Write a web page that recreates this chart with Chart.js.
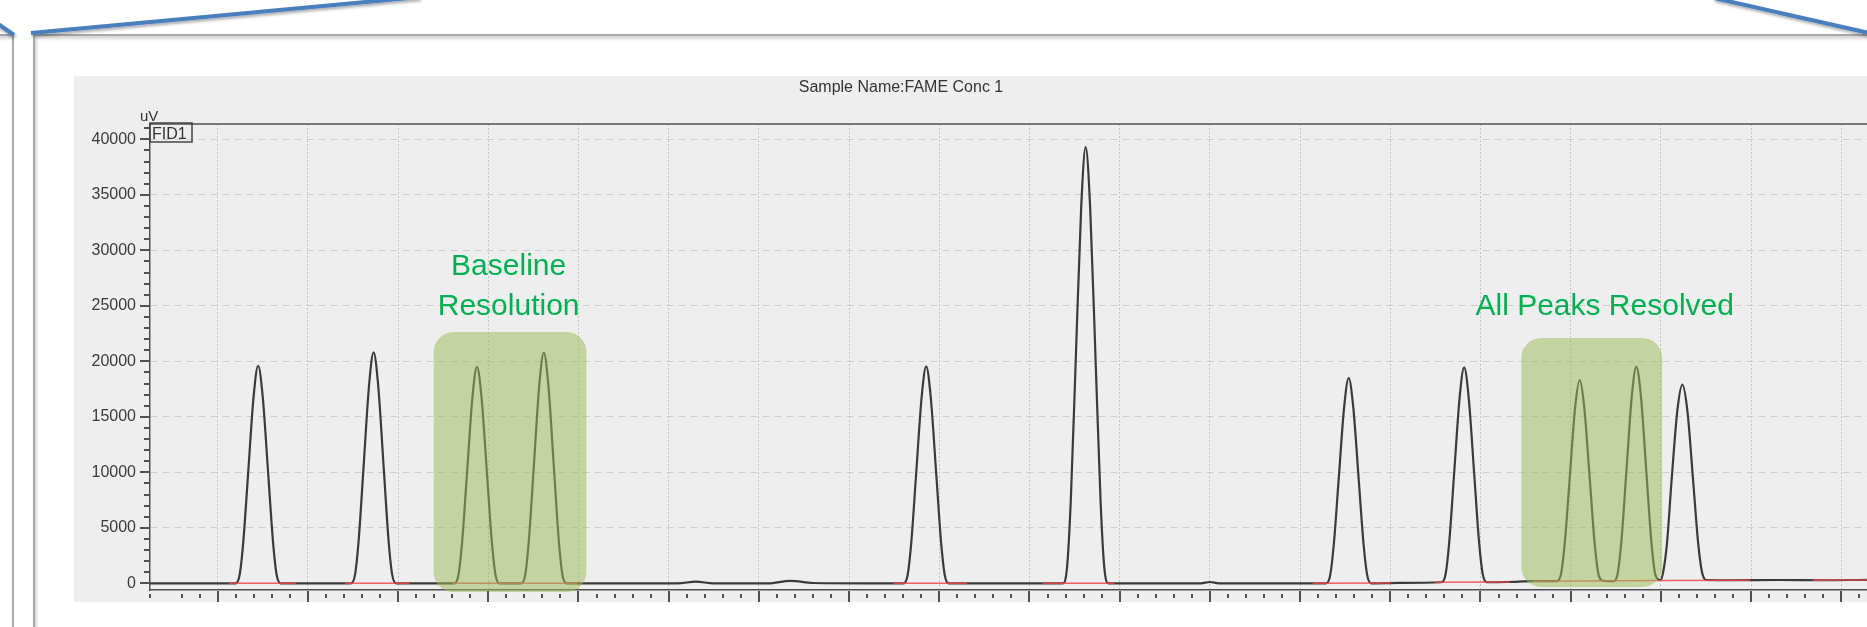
<!DOCTYPE html>
<html>
<head>
<meta charset="utf-8">
<script src="https://cdn.jsdelivr.net/npm/chart.js@4.4.1/dist/chart.umd.min.js"></script>
<style>
  html, body { margin: 0; padding: 0; background: #fff; width: 1867px; height: 627px; overflow: hidden; position: relative; }
  .panel { position: absolute; border-top: 2px solid #a8a8a8; box-shadow: inset 2px 3px 3px rgba(0,0,0,0.16); }
  #mainPanel { left: 33px; top: 34px; width: 1900px; height: 700px; border-left: 2px solid #a8a8a8; }
  #sidePanel { left: -100px; top: 34px; width: 112px; height: 700px; border-right: 2px solid #a8a8a8; }
  #plotBg { position: absolute; left: 74px; top: 76px; width: 1850px; height: 526px; background: #eeeeee; }
  #chart { position: absolute; left: 0; top: 0; }
  #frame { position: absolute; left: 0; top: 0; }
</style>
</head>
<body>
<div class="panel" id="sidePanel"></div>
<div class="panel" id="mainPanel"></div>
<div id="plotBg"></div>
<canvas id="chart" width="1900" height="627"></canvas>
<svg id="frame" width="1867" height="627">
  <defs>
    <filter id="sh" x="-5%" y="-50%" width="110%" height="300%">
      <feDropShadow dx="1" dy="2" stdDeviation="1.5" flood-color="#000" flood-opacity="0.35"/>
    </filter>
  </defs>
  <g stroke="#4a7ebf" stroke-width="4" filter="url(#sh)">
    <line x1="31" y1="33" x2="420" y2="-3"/>
    <line x1="-2" y1="24" x2="14" y2="35"/>
    <line x1="1714" y1="-2" x2="1869" y2="33"/>
  </g>
</svg>
<script>
// chromatogram trace: retention time (major grid = 1 unit) and detector response in uV
const traceTime = [
  0.25, 0.80,
  1.199, 1.244, 1.284, 1.337, 1.399, 1.449, 1.499, 1.561, 1.614, 1.654, 1.699,
  2.10,
  2.479, 2.524, 2.564, 2.617, 2.679, 2.729, 2.779, 2.841, 2.894, 2.934, 2.979,
  3.30,
  3.625, 3.670, 3.710, 3.763, 3.825, 3.875, 3.925, 3.987, 4.040, 4.080, 4.125,
  4.25,
  4.366, 4.411, 4.451, 4.504, 4.566, 4.616, 4.666, 4.728, 4.781, 4.821, 4.866,
  5.50, 6.10, 6.30, 6.50, 7.10, 7.35, 7.60, 8.20,
  8.605, 8.650, 8.690, 8.743, 8.805, 8.855, 8.905, 8.967, 9.020, 9.060, 9.105,
  9.60, 10.10,
  10.373, 10.418, 10.458, 10.511, 10.573, 10.623, 10.673, 10.735, 10.788, 10.828, 10.873,
  11.50, 11.90, 12.00, 12.10, 13.00,
  13.289, 13.334, 13.374, 13.427, 13.489, 13.539, 13.589, 13.651, 13.704, 13.744, 13.789,
  14.10,
  14.569, 14.614, 14.654, 14.707, 14.769, 14.819, 14.869, 14.931, 14.984, 15.024, 15.069,
  15.30, 15.60,
  15.850, 15.895, 15.935, 15.988, 16.050, 16.100, 16.150, 16.212, 16.265, 16.305, 16.350,
  16.41,
  16.478, 16.523, 16.563, 16.616, 16.678, 16.728, 16.778, 16.840, 16.893, 16.933, 16.975,
  16.996, 17.025, 17.068, 17.118, 17.183, 17.238, 17.293, 17.358, 17.413, 17.456, 17.505,
  17.80, 18.30, 18.80, 19.30, 19.54
];
const traceUV = [
  0, 0,
  0, 780, 3720, 9800, 16860, 19600, 16860, 9800, 3720, 780, 0,
  0,
  0, 830, 3950, 10400, 17890, 20800, 17890, 10400, 3950, 830, 0,
  0,
  0, 780, 3700, 9750, 16770, 19500, 16770, 9750, 3700, 780, 0,
  0,
  0, 830, 3950, 10390, 17870, 20780, 17870, 10390, 3950, 830, 0,
  0, 0, 150, 0, 0, 220, 30, 0,
  0, 780, 3710, 9780, 16810, 19550, 16810, 9780, 3710, 780, 0,
  0, 0,
  0, 1570, 7470, 19650, 33800, 39300, 33800, 19650, 7470, 1570, 0,
  0, 0, 120, 0, 0,
  0, 740, 3520, 9250, 15910, 18500, 15910, 9250, 3520, 740, 0,
  50,
  100, 860, 3750, 9780, 16760, 19450, 16760, 9780, 3750, 860, 100,
  120, 200,
  200, 930, 3680, 9350, 15900, 18300, 15900, 9350, 3680, 930, 250,
  200,
  200, 980, 3880, 9900, 16900, 19500, 16900, 9900, 3880, 980, 350,
  300, 1000, 3650, 9200, 15600, 17900, 15600, 9200, 3650, 1000, 300,
  280, 300, 280, 320, 330
];

// integration baselines (null = gap between peaks)
const baselineTime = [1.122, 1.865, 1.9, 2.414, 3.129, 3.2, 3.602, 4.988, 5.0, 8.492, 9.308, 9.4,
  10.146, 10.941, 11.0, 13.140, 14.010, 14.1, 14.492, 15.324, 15.4, 15.579, 16.987, 16.987, 17.985, 18.1, 18.683, 19.54];
const baselineUV = [0, 0, null, 0, 0, null, 0, 0, null, 0, 0, null,
  0, 0, null, 0, 40, null, 100, 120, null, 180, 260, 260, 280, null, 280, 320];

const yLabelTicks = [0, 5000, 10000, 15000, 20000, 25000, 30000, 35000, 40000];
const yMinorStep = 1000;

const highlightBoxes = [
  { x0: 3.395, x1: 5.088, y0: -780, y1: 22640 },
  { x0: 15.453, x1: 17.014, y0: -330, y1: 22100 }
];
const notes = [
  { lines: ['Baseline', 'Resolution'], x: 4.226, y: 27780 },
  { lines: ['All Peaks Resolved'], x: 16.377, y: 24170 }
];

const FONT = '"Liberation Sans", Arial, sans-serif';
const isWhole = v => Math.abs(v - Math.round(v)) < 1e-6;

const decor = {
  id: 'decor',
  afterDatasetsDraw(chart) {
    const { ctx, scales: { x, y } } = chart;
    ctx.save();
    ctx.fillStyle = 'rgba(155,187,89,0.52)';
    highlightBoxes.forEach(b => {
      const l = x.getPixelForValue(b.x0), r = x.getPixelForValue(b.x1);
      const t = y.getPixelForValue(b.y1), btm = y.getPixelForValue(b.y0);
      ctx.beginPath();
      ctx.roundRect(l, t, r - l, btm - t, 20);
      ctx.fill();
    });
    ctx.fillStyle = '#00b050';
    ctx.font = '30px ' + FONT;
    ctx.textAlign = 'center';
    ctx.textBaseline = 'alphabetic';
    notes.forEach(n => n.lines.forEach((s, i) => {
      ctx.fillText(s, x.getPixelForValue(n.x), y.getPixelForValue(n.y) + i * 40);
    }));
    ctx.restore();
  },
  afterDraw(chart) {
    const { ctx, chartArea: a, scales: { x, y } } = chart;
    ctx.save();
    ctx.strokeStyle = '#505050';
    ctx.lineWidth = 1.5;
    ctx.beginPath();
    ctx.moveTo(a.left, a.top);
    ctx.lineTo(a.right, a.top);
    ctx.stroke();

    // axis tick marks, major ones longer
    ctx.lineWidth = 2;
    ctx.beginPath();
    y.ticks.forEach(t => {
      const py = Math.round(y.getPixelForValue(t.value));
      const len = yLabelTicks.includes(t.value) ? 10 : 6;
      ctx.moveTo(a.left - len, py);
      ctx.lineTo(a.left, py);
    });
    x.ticks.forEach(t => {
      const px = Math.round(x.getPixelForValue(t.value));
      if (isWhole(t.value)) {
        ctx.moveTo(px, a.bottom + 1);
        ctx.lineTo(px, a.bottom + 12);
      } else {
        ctx.moveTo(px, a.bottom + 4);
        ctx.lineTo(px, a.bottom + 8);
      }
    });
    ctx.stroke();

    // detector box and unit
    ctx.lineWidth = 1.5;
    ctx.strokeStyle = '#444';
    ctx.strokeRect(a.left, a.top - 1, 42, 19);
    ctx.fillStyle = '#333';
    ctx.font = '16px ' + FONT;
    ctx.textAlign = 'left';
    ctx.fillText('FID1', a.left + 2, a.top + 15);
    ctx.font = '15px ' + FONT;
    ctx.fillText('uV', a.left - 10, a.top - 3);

    ctx.textAlign = 'center';
    ctx.font = '16px ' + FONT;
    ctx.fillText('Sample Name:FAME Conc 1', 901, 92);
    ctx.restore();
  }
};

new Chart(document.getElementById('chart').getContext('2d'), {
  type: 'line',
  data: {
    datasets: [{
      label: 'Baseline',
      data: baselineTime.map((t, i) => ({ x: t, y: baselineUV[i] })),
      borderColor: 'rgba(240,70,70,0.85)',
      borderWidth: 1.5,
      pointRadius: 0,
      order: 0
    }, {
      label: 'FID1',
      data: traceTime.map((t, i) => ({ x: t, y: traceUV[i] })),
      borderColor: '#3a3a3a',
      borderWidth: 2.2,
      pointRadius: 0,
      cubicInterpolationMode: 'monotone',
      order: 1
    }]
  },
  options: {
    responsive: false,
    animation: false,
    layout: { padding: { left: 40, top: 124, right: 10, bottom: 0 } },
    plugins: {
      legend: { display: false },
      tooltip: { enabled: false }
    },
    scales: {
      x: {
        type: 'linear',
        min: 0.25,
        max: 19.54,
        afterFit: s => { s.height = 37; },
        ticks: { display: false, stepSize: 0.2, autoSkip: false },
        grid: {
          drawTicks: false,
          lineWidth: 1,
          color: c => isWhole(c.tick.value) ? '#c4c4c4' : 'transparent'
        },
        border: { color: '#505050', width: 1.5, dash: [2, 2] }
      },
      y: {
        type: 'linear',
        min: -600,
        max: 41380,
        afterFit: s => { s.width = 110; },
        afterBuildTicks: s => {
          const list = [];
          for (let v = 0; v <= 41000; v += yMinorStep) list.push({ value: v });
          s.ticks = list;
        },
        ticks: {
          autoSkip: false,
          padding: 14,
          color: '#3a3a3a',
          font: { family: FONT, size: 16 },
          callback: v => yLabelTicks.includes(v) ? String(v) : ''
        },
        grid: {
          drawTicks: false,
          color: c => (c.tick && yLabelTicks.includes(c.tick.value) && c.tick.value > 0) ? '#cdcdcd' : 'transparent'
        },
        border: { color: '#505050', width: 1.5, dash: [7, 5] }
      }
    }
  },
  plugins: [decor]
});
</script>
</body>
</html>
